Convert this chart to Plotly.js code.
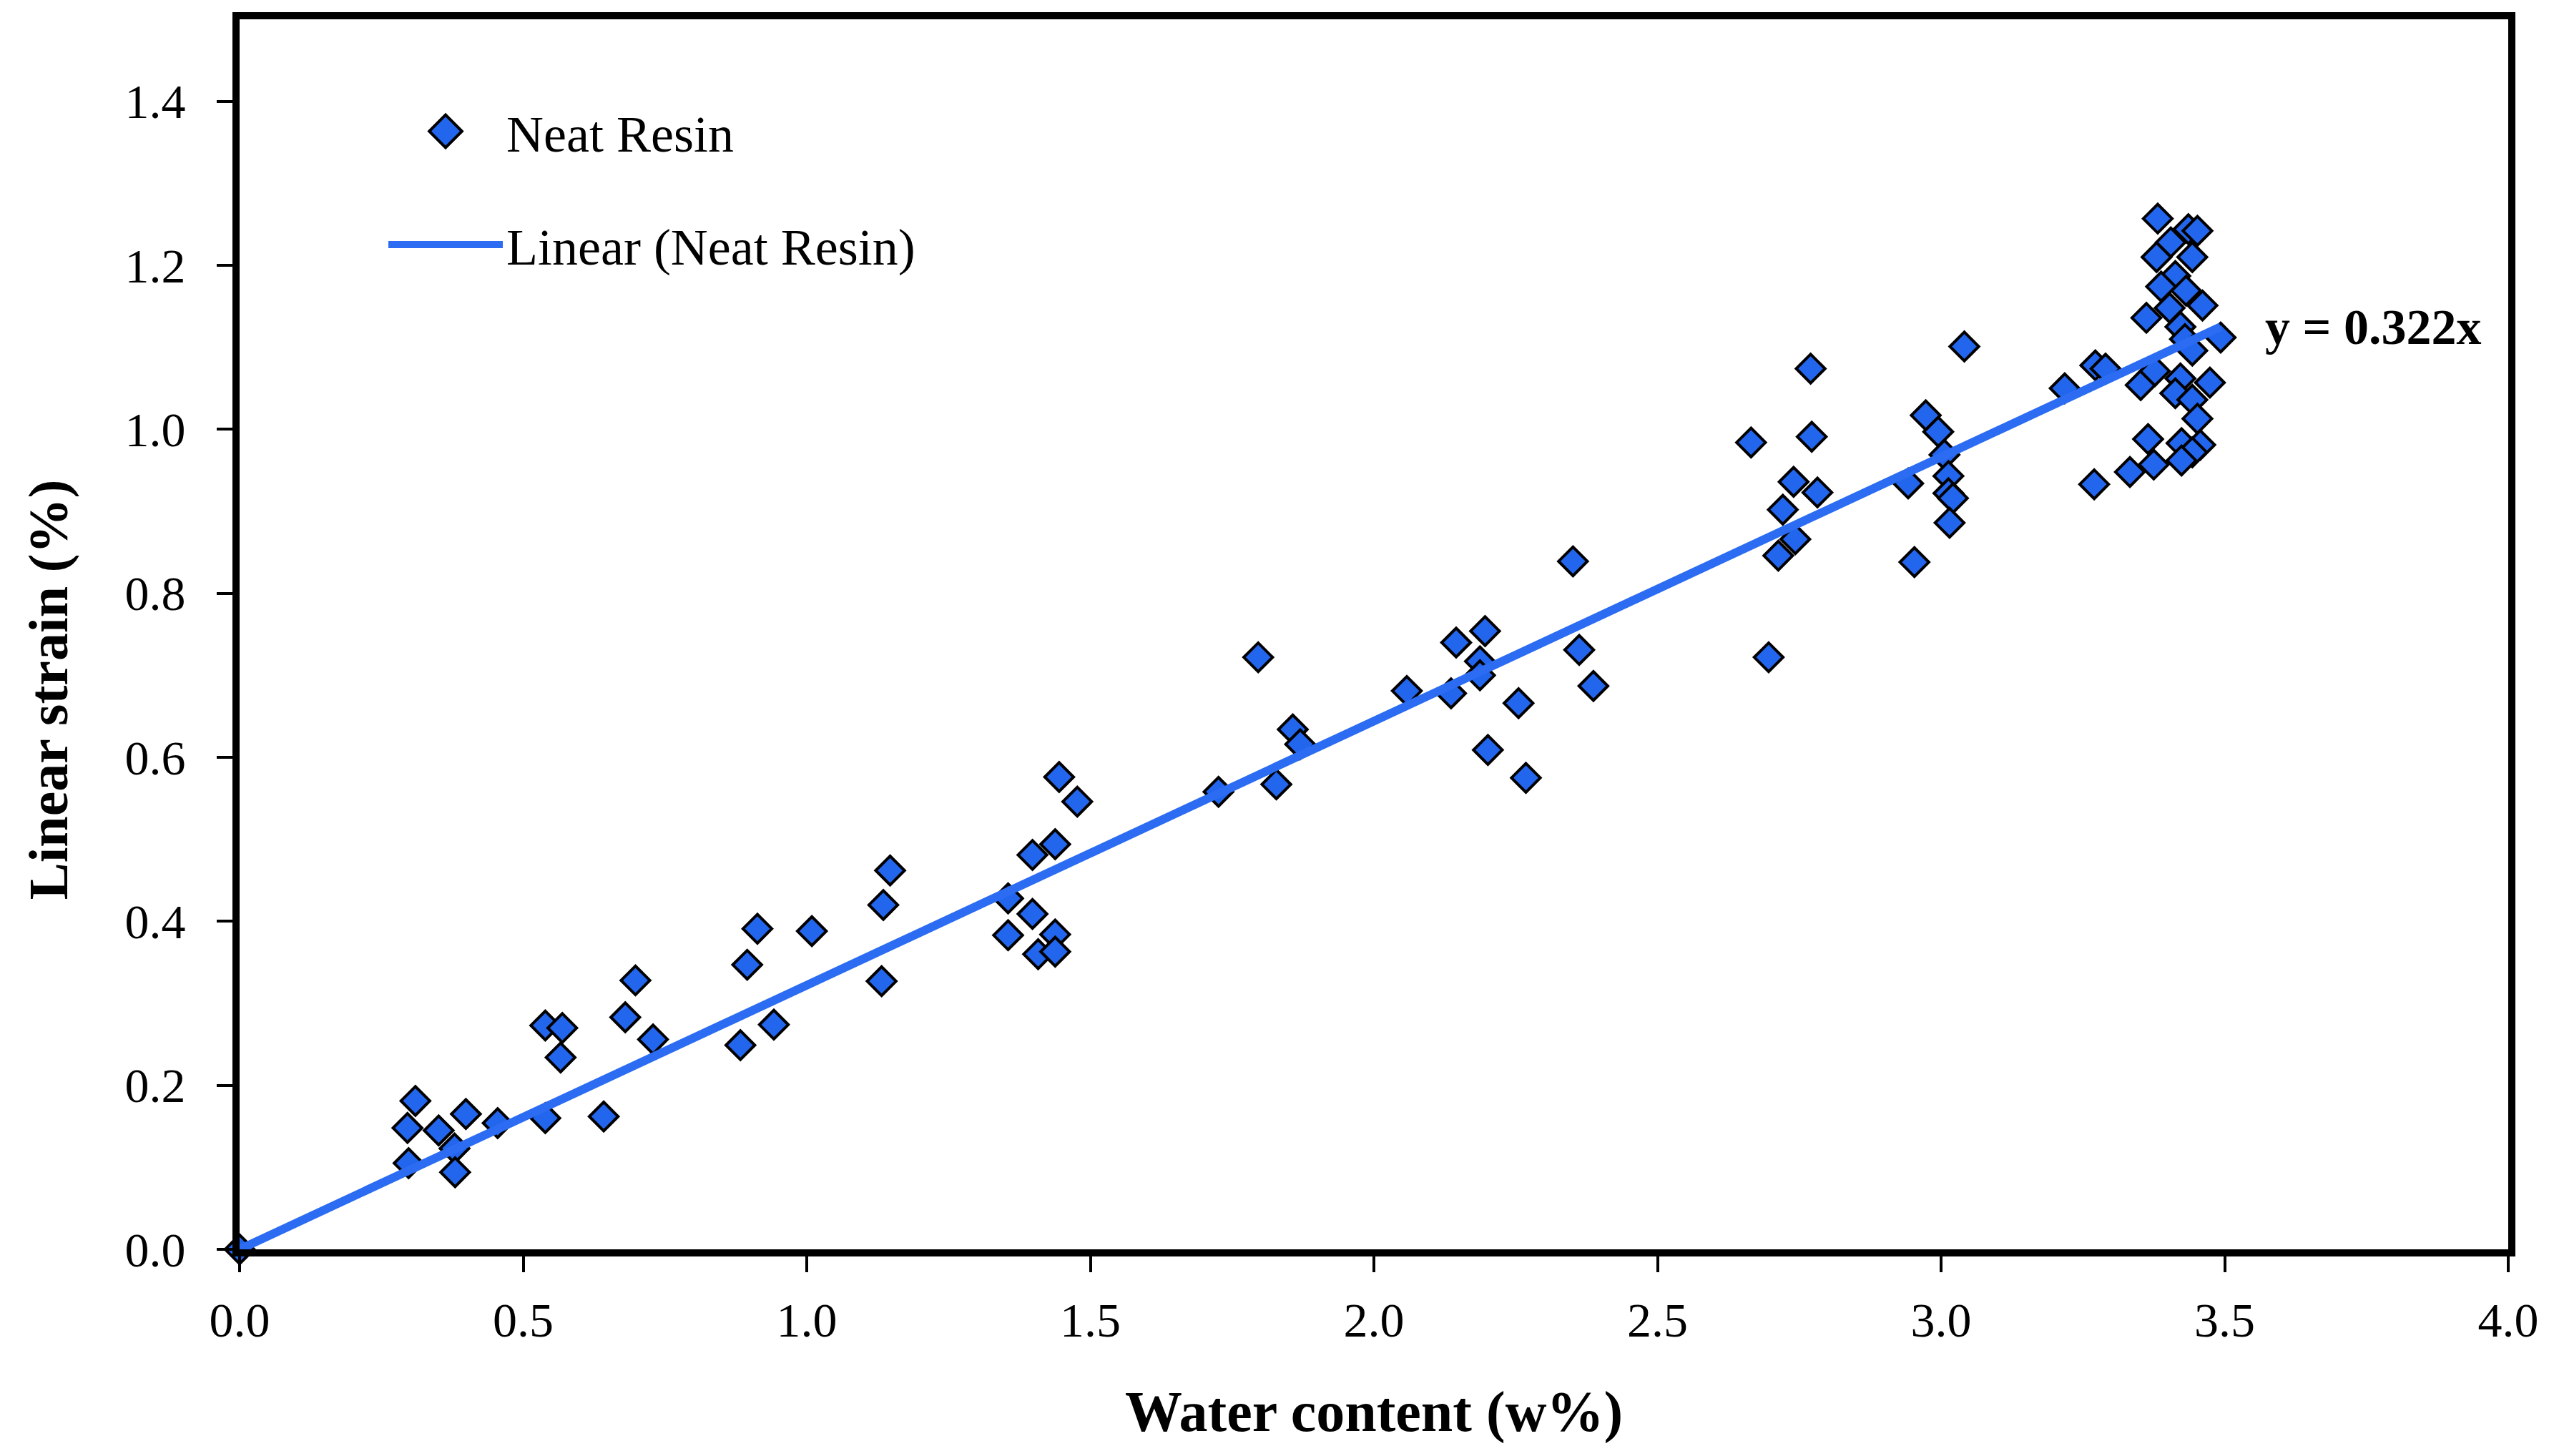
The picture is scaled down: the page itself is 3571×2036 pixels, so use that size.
<!DOCTYPE html>
<html>
<head>
<meta charset="utf-8">
<script src="https://cdn.plot.ly/plotly-3.0.1.min.js"></script>
<style>
  html, body { margin: 0; padding: 0; background: #fff; }
  #chart { width: 3571px; height: 2036px; }
</style>
</head>
<body>
<div id="chart"></div>
<script>
// water content (w%) and linear strain (%)
const waterContent = [
    0, 0.310, 0.296, 0.351, 0.399, 0.455, 0.298, 0.379, 0.380, 0.539, 0.569, 0.566, 0.539, 0.642, 0.698, 0.680, 0.729,
    0.913, 0.895, 1.009, 0.883, 0.942, 1.147, 1.135, 1.132, 1.445, 1.477, 1.438, 1.398, 1.355, 1.398, 1.355, 1.438, 1.408, 1.438,
    1.726, 1.828, 1.796, 1.857, 1.870, 2.058, 2.136, 2.145, 2.196, 2.187, 2.187, 2.255, 2.201, 2.268, 2.351, 2.362, 2.387,
    2.770, 3.041, 3.218, 2.665, 2.772, 2.740, 2.782, 2.721, 2.743, 2.713, 2.696, 2.973, 2.995, 3.006, 3.013, 3.013, 3.021, 3.015, 2.942, 2.953,
    3.382, 3.436, 3.452, 3.405, 3.380, 3.443, 3.413, 3.388, 3.432, 3.403, 3.461, 3.362, 3.422, 3.430, 3.493, 3.443,
    3.272, 3.290, 3.352, 3.377, 3.422, 3.474, 3.413, 3.443, 3.452, 3.365, 3.424, 3.457, 3.443, 3.375, 3.333, 3.424, 3.270
];
const linearStrain = [
    0, 0.181, 0.148, 0.145, 0.165, 0.154, 0.105, 0.123, 0.094, 0.273, 0.270, 0.234, 0.160, 0.162, 0.328, 0.283, 0.256,
    0.391, 0.347, 0.388, 0.249, 0.274, 0.462, 0.420, 0.327, 0.576, 0.546, 0.494, 0.481, 0.428, 0.409, 0.383, 0.384, 0.360, 0.363,
    0.558, 0.567, 0.722, 0.634, 0.616, 0.681, 0.678, 0.740, 0.754, 0.717, 0.700, 0.666, 0.609, 0.575, 0.839, 0.731, 0.687,
    1.074, 1.101, 1.050, 0.984, 0.991, 0.936, 0.923, 0.902, 0.866, 0.846, 0.722, 1.017, 0.997, 0.969, 0.943, 0.922, 0.916, 0.886, 0.934, 0.838,
    1.257, 1.244, 1.242, 1.228, 1.210, 1.210, 1.187, 1.174, 1.169, 1.148, 1.151, 1.136, 1.125, 1.110, 1.112, 1.096,
    1.078, 1.074, 1.054, 1.071, 1.062, 1.057, 1.044, 1.036, 1.013, 0.988, 0.983, 0.981, 0.972, 0.957, 0.948, 0.962, 0.933
];

// trend line ends (y = 0.322x)
const trendX = [0, 3.493];
const trendY = [0, 1.125];

const xTicks = [0, 0.5, 1.0, 1.5, 2.0, 2.5, 3.0, 3.5, 4.0];
const yTicks = [0, 0.2, 0.4, 0.6, 0.8, 1.0, 1.2, 1.4];

const serif = '"Palatino Linotype", "Book Antiqua", Palatino, "Liberation Serif", serif';

const points = {
    x: waterContent,
    y: linearStrain,
    mode: 'markers',
    type: 'scatter',
    name: 'Neat Resin',
    legendgroup: 'a',
    cliponaxis: false,
    marker: {
        symbol: 'diamond',
        color: '#2366ee',
        size: 31,
        line: {
            color: '#000000',
            width: 4
        }
    }
};

const trend = {
    x: trendX,
    y: trendY,
    mode: 'lines',
    type: 'scatter',
    name: 'Linear (Neat Resin)',
    legendgroup: 'b',
    cliponaxis: false,
    line: {
        color: '#2b6cf2',
        width: 12
    }
};

const axisStyle = {
    showline: true,
    linewidth: 10,
    linecolor: '#000000',
    mirror: true,
    ticks: 'outside',
    ticklen: 22,
    tickwidth: 4,
    tickcolor: '#000000',
    showgrid: false,
    zeroline: false,
    tickformat: '.1f',
    tickfont: { family: serif, size: 68, color: '#000000' }
};

const layout = {
    width: 3571,
    height: 2036,
    margin: { l: 335, r: 64, t: 27, b: 289, pad: 0 },
    paper_bgcolor: '#ffffff',
    plot_bgcolor: '#ffffff',
    font: { family: serif, color: '#000000' },
    xaxis: Object.assign({}, axisStyle, {
        range: [0, 4],
        tickvals: xTicks,
        ticklabelstandoff: 8,
        title: { text: '<b>Water content (w%)</b>', font: { family: serif, size: 80 }, standoff: 66 }
    }),
    yaxis: Object.assign({}, axisStyle, {
        range: [0, 1.5],
        tickvals: yTicks,
        ticklabelstandoff: 30
    }),
    showlegend: true,
    legend: {
        x: 0.064,
        y: 0.94,
        xanchor: 'left',
        yanchor: 'top',
        bgcolor: 'rgba(0,0,0,0)',
        font: { family: serif, size: 72, color: '#000000' },
        traceorder: 'grouped',
        tracegroupgap: 62,
        itemwidth: 160
    },
    annotations: [
        {
            xref: 'paper', yref: 'paper',
            x: -0.0845, y: 0.455,
            xanchor: 'center', yanchor: 'middle',
            textangle: -90,
            showarrow: false,
            text: '<b>Linear strain (%)</b>',
            font: { family: serif, size: 78, color: '#000000' }
        },
        {
            x: 3.569, y: 1.125,
            xanchor: 'left', yanchor: 'middle',
            showarrow: false,
            text: '<b>y = 0.322x</b>',
            font: { family: serif, size: 70, color: '#000000' }
        }
    ]
};

Plotly.newPlot('chart', [points, trend], layout, { staticPlot: true }).then(gd => {
    // legend symbols are capped small by plotly, scale the diamond up to match the plot markers
    gd.querySelectorAll('.legend .legendpoints path.scatterpts').forEach(p => {
        const t = p.getAttribute('transform') || '';
        p.setAttribute('transform', t + ' scale(2.2)');
        p.style.strokeWidth = '1.8px';
    });
});
</script>
</body>
</html>
